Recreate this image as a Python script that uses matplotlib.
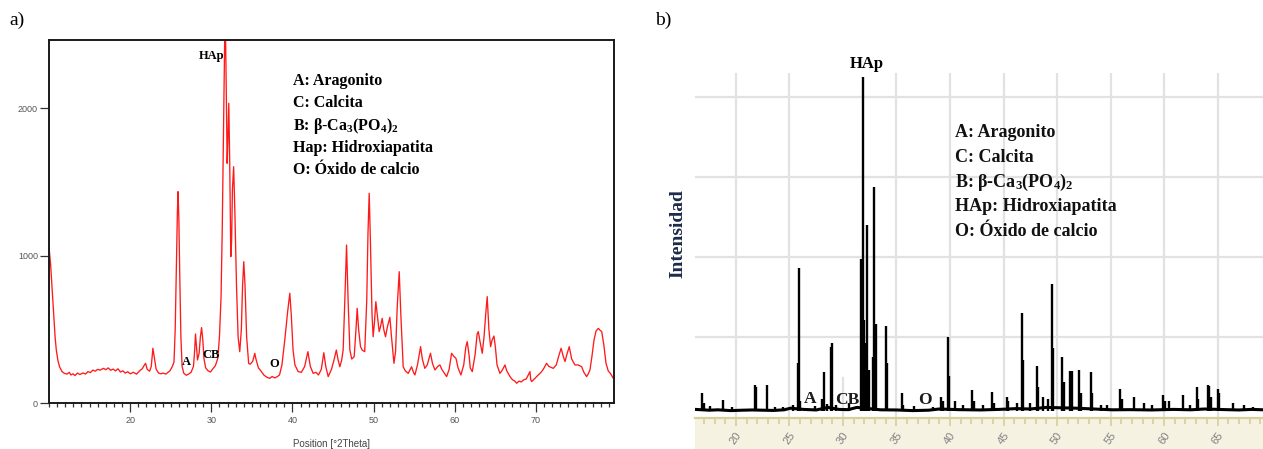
import matplotlib
matplotlib.use('Agg')
import matplotlib.pyplot as plt
import matplotlib.transforms as mtransforms
from matplotlib.ticker import MultipleLocator

plt.rcParams['mathtext.fontset'] = 'custom'
plt.rcParams['mathtext.rm'] = 'Liberation Serif:bold'
plt.rcParams['mathtext.it'] = 'Liberation Serif:bold'
plt.rcParams['mathtext.default'] = 'rm'

SERIF = ['Liberation Serif', 'DejaVu Serif']
NARROW = ['Liberation Sans Narrow', 'Liberation Sans', 'DejaVu Sans']

# --- panel a: continuous diffractogram (2theta, counts)
tt_a = [10.0, 10.2, 10.4, 10.57, 10.75, 10.9, 11.1, 11.3, 11.6, 11.9, 12.2, 12.5, 12.7, 12.95,
        13.2, 13.5, 13.8, 14.2, 14.5, 14.8, 15.1, 15.4, 15.7, 16.0, 16.3, 16.7, 17.0, 17.3,
        17.6, 17.9, 18.2, 18.5, 18.8, 19.1, 19.4, 19.7, 20.0, 20.4, 20.8, 21.2, 21.5, 21.7,
        21.9, 22.1, 22.4, 22.6, 22.8, 23.0, 23.2, 23.5, 23.8, 24.05, 24.4, 24.7, 24.9, 25.2,
        25.4, 25.55, 25.7, 25.82, 25.9, 26.0, 26.1, 26.25, 26.4, 26.6, 26.9, 27.2, 27.5, 27.8,
        27.95, 28.05, 28.15, 28.3, 28.5, 28.65, 28.8, 28.95, 29.1, 29.3, 29.6, 29.9, 30.2,
        30.5, 30.8, 31.0, 31.2, 31.35, 31.5, 31.6, 31.7, 31.8, 31.95, 32.05, 32.15, 32.25,
        32.4, 32.5, 32.6, 32.75, 32.9, 33.1, 33.3, 33.5, 33.7, 33.85, 34.0, 34.15, 34.35,
        34.6, 34.8, 35.1, 35.35, 35.5, 35.8, 36.1, 36.5, 36.9, 37.2, 37.5, 37.8, 38.1, 38.4,
        38.7, 39.05, 39.4, 39.67, 39.85, 40.07, 40.3, 40.7, 41.1, 41.5, 41.9, 42.2, 42.55,
        42.9, 43.2, 43.55, 43.86, 44.1, 44.4, 44.8, 45.1, 45.4, 45.6, 45.83, 46.05, 46.24,
        46.45, 46.66, 46.85, 47.07, 47.3, 47.6, 47.8, 47.97, 48.15, 48.38, 48.6, 48.9, 49.15,
        49.3, 49.45, 49.6, 49.8, 49.94, 50.1, 50.27, 50.45, 50.68, 50.85, 51.05, 51.25, 51.46,
        51.7, 52.0, 52.2, 52.5, 52.7, 52.9, 53.15, 53.35, 53.64, 53.9, 54.26, 54.5, 54.67,
        54.9, 55.08, 55.4, 55.78, 56.0, 56.3, 56.6, 57.0, 57.25, 57.55, 57.9, 58.16, 58.4,
        58.7, 58.99, 59.3, 59.6, 59.85, 60.14, 60.4, 60.75, 61.1, 61.35, 61.53, 61.75, 61.9,
        62.15, 62.5, 62.75, 62.89, 63.1, 63.38, 63.6, 63.8, 63.99, 64.2, 64.41, 64.6, 64.82,
        65.0, 65.2, 65.56, 65.8, 66.18, 66.4, 66.8, 67.1, 67.4, 67.62, 67.9, 68.2, 68.44,
        68.8, 69.26, 69.35, 69.47, 69.8, 70.3, 70.7, 71.0, 71.3, 71.6, 72.13, 72.5, 72.8,
        73.1, 73.35, 73.58, 73.8, 74.1, 74.4, 74.8, 75.2, 75.63, 75.9, 76.24, 76.45, 76.65,
        76.9, 77.15, 77.4, 77.68, 77.9, 78.1, 78.35, 78.63, 78.9, 79.2, 79.53, 79.7]
ct_a = [1060, 940, 760, 610, 450, 361, 290, 248, 215, 203, 198, 210, 192, 200,
        188, 205, 195, 206, 198, 215, 208, 225, 218, 230, 225, 237, 228, 240,
        224, 232, 220, 234, 212, 220, 205, 214, 200, 210, 198, 222, 235, 255,
        271, 230, 218, 250, 373, 300, 232, 205, 200, 205, 198, 212, 220, 250,
        280, 500, 950, 1300, 1435, 1250, 900, 450, 250, 205, 190, 198, 210, 250,
        360, 470, 400, 294, 340, 450, 513, 430, 300, 240, 220, 212, 235,
        255, 305, 450, 723, 1200, 1853, 2300, 2700, 2300, 1627, 1800, 2034, 1700,
        994, 1100, 1450, 1604, 1300, 800, 450, 350, 500, 800, 960, 800, 450,
        270, 265, 285, 339, 300, 240, 220, 190, 175, 169, 182, 172, 180, 192,
        260, 429, 620, 746, 600, 361, 260, 215, 210, 250, 350, 250, 203,
        210, 192, 230, 343, 250, 181, 230, 290, 361, 300, 248, 290, 361,
        700, 1073, 700, 361, 300, 316, 480, 644, 500, 384, 360, 350, 700,
        1150, 1424, 1100, 600, 451, 550, 689, 600, 486, 520, 576, 500, 451,
        520, 583, 450, 271, 350, 650, 892, 600, 248, 220, 203, 230, 248,
        210, 192, 260, 384, 300, 237, 260, 339, 270, 226, 250, 260, 230,
        205, 181, 230, 339, 320, 305, 240, 192, 260, 380, 418, 330, 240,
        215, 330, 470, 486, 420, 339, 450, 600, 723, 500, 384, 430, 456,
        380, 260, 203, 220, 260, 220, 181, 160, 150, 136, 150, 145, 158,
        165, 215, 160, 147, 165, 192, 215, 240, 271, 250, 237, 260, 320,
        373, 320, 283, 330, 384, 300, 260, 260, 248, 210, 181, 200, 226,
        320, 429, 490, 508, 495, 486, 400, 271, 220, 200, 169, 160]

# --- panel b: stick pattern (2theta, relative intensity)
peak_b = [16.8, 17.0, 17.6, 18.8, 19.6, 21.8, 21.9, 22.9, 23.6, 24.4, 25.3, 25.8, 25.9, 26.0,
          27.4, 28.0, 28.2, 28.5, 28.85, 29.0, 29.3, 30.6, 31.72, 31.84, 31.96, 32.12, 32.25,
          32.4, 32.8, 32.93, 33.1, 34.05, 34.15, 35.5, 35.6, 36.6, 38.4, 39.2, 39.35, 39.85,
          39.95, 40.5, 41.2, 42.05, 42.2, 43.1, 43.95, 44.1, 45.3, 45.45, 46.3, 46.72, 46.85,
          47.5, 48.1, 48.25, 48.7, 49.2, 49.5, 49.62, 50.45, 50.62, 51.25, 51.42, 52.05,
          52.2, 53.15, 53.3, 54.1, 54.7, 55.9, 56.05, 57.15, 58.1, 58.9, 59.95, 60.1,
          60.45, 61.75, 62.4, 63.05, 63.2, 64.1, 64.25, 64.4, 65.0, 65.15, 66.4, 67.5, 68.3]
int_b = [304, 170, 140, 212, 130, 400, 380, 400, 130, 130, 150, 675, 1860, 200,
         140, 230, 566, 160, 880, 925, 150, 170, 1970, 4254, 1212, 925, 2400,
         587, 754, 2880, 1162, 1137, 680, 304, 150, 140, 130, 254, 200, 996,
         512, 200, 150, 337, 200, 150, 316, 180, 254, 200, 170, 1304, 712,
         180, 637, 379, 250, 220, 1662, 858, 754, 441, 579, 579, 587,
         300, 566, 300, 150, 150, 350, 220, 254, 180, 150, 275, 200,
         200, 275, 150, 379, 220, 400, 390, 250, 350, 300, 170, 150, 130]
base_tt = [16.2, 17.5, 18.3, 19.5, 20.6, 21.5, 23.5, 24.5, 25.1, 26.3, 27.5, 28.6, 29.6,
           30.5, 31.3, 33.5, 35.0, 36.5, 38.0, 39.0, 40.8, 42.8, 44.6, 46.2, 47.5, 49.0,
           51.8, 53.8, 55.2, 56.8, 58.8, 60.9, 62.5, 63.8, 65.8, 67.0, 68.2, 69.3]
base_ct = [95, 85, 90, 80, 85, 88, 82, 90, 110, 95, 88, 120, 95,
           92, 120, 90, 88, 80, 85, 100, 92, 88, 95, 105, 100, 120,
           110, 98, 90, 92, 88, 95, 90, 100, 92, 88, 95, 90]

labels_a = [('A', 26.9, 260), ('CB', 30.0, 305), ('O', 37.8, 244)]
labels_b = [('A', 26.9, 179), ('CB', 30.4, 159), ('O', 37.66, 160)]
legend_lines = ['A: Aragonito', 'C: Calcita', r'B: β-Ca$_3$(PO$_4$)$_2$',
                'Hap: Hidroxiapatita', 'O: Óxido de calcio']
legend_lines_b = ['A: Aragonito', 'C: Calcita', r'B: β-Ca$_3$(PO$_4$)$_2$',
                  'HAp: Hidroxiapatita', 'O: Óxido de calcio']
xticks_a = [20, 30, 40, 50, 60, 70]
yticks_a = [0, 1000, 2000]
xticks_b = [20, 25, 30, 35, 40, 45, 50, 55, 60, 65]
ygrid_b = [1000, 2000, 3000, 4000]

fig = plt.figure(figsize=(12.63, 4.49), dpi=100)

# ---------------- panel a
ax = fig.add_axes([49 / 1263, 45.7 / 449, 565.3 / 1263, 363.3 / 449])
ax.plot(tt_a, ct_a, color='#ff1a1a', lw=0.95)
ax.set_xlim(10.0, 79.65)
ax.set_ylim(0, 2463)
ax.set_xticks(xticks_a)
ax.set_yticks(yticks_a)
ax.xaxis.set_minor_locator(MultipleLocator(1))
for s in ax.spines.values():
    s.set_color('#1a1a1a')
    s.set_linewidth(1.4)
ax.tick_params(axis='x', which='major', length=6.5, width=0.9, color='#333', pad=2.5,
               labelsize=6.5, labelcolor='#555')
ax.tick_params(axis='x', which='minor', length=3, width=0.9, color='#333')
ax.tick_params(axis='y', which='major', length=6.5, width=0.9, color='#333', pad=1.5,
               labelsize=6.5, labelcolor='#555')
for lab in ax.get_xticklabels() + ax.get_yticklabels():
    lab.set_family(NARROW)
ax.set_xlabel('Position [°2Theta]', fontsize=7, color='#444', family=NARROW, labelpad=10)

ax.text(30.0, 2332, 'HAp', fontsize=9, fontweight='bold', family=SERIF,
        ha='center', va='baseline')
for txt, x, y in labels_a:
    ax.text(x, y, txt, fontsize=9, fontweight='bold', family=SERIF, ha='center', va='baseline')
for i, line in enumerate(legend_lines):
    ax.text(0.4316, 0.8761 - i * 0.0615, line, transform=ax.transAxes, fontsize=11.5,
            fontweight='bold', family=SERIF, va='baseline')

# ---------------- panel b
bx = fig.add_axes([695 / 1263, 31 / 449, 568 / 1263, 345 / 449])
bx.set_xlim(16.17, 69.25)
bx.set_ylim(-12.5, 4300)
for sp in bx.spines.values():
    sp.set_visible(False)
bx.set_xticks([])
bx.set_yticks([])
for g in ygrid_b:
    bx.axhline(g, color='#e2e2e2', lw=1.6, zorder=0)
for t in xticks_b:
    top = 0.116 if t == 30 else 1.0
    bx.axvline(t, ymin=0, ymax=top, color='#e2e2e2', lw=1.6, zorder=0)
bx.plot(base_tt, base_ct, color='black', lw=2.2, solid_joinstyle='miter')
bx.vlines(peak_b, 80, int_b, color='black', lw=1.7)

bx.text(32.24, 4360, 'HAp', fontsize=12, fontweight='bold', family=SERIF,
        ha='center', va='baseline')
for txt, x, y in labels_b:
    bx.text(x, y, txt, fontsize=12.5, fontweight='bold', family=SERIF, color='#1b1b1b',
            ha='center', va='baseline')
for i, line in enumerate(legend_lines_b):
    bx.text(0.4586, 0.8145 - i * 0.0717, line, transform=bx.transAxes, fontsize=13,
            fontweight='bold', family=SERIF, va='baseline', color='#111')
bx.text(-0.03, 0.536, 'Intensidad', transform=bx.transAxes, rotation=90, fontsize=14,
        fontweight='bold', family=SERIF, color='#1c2b4a', ha='center', va='center')

# beige scale band under panel b
band = fig.add_axes([695 / 1263, 0, 568 / 1263, 31 / 449], facecolor='#f5f2e2')
band.set_xlim(16.17, 69.25)
band.set_ylim(0, 1)
for name, sp in band.spines.items():
    sp.set_visible(name == 'top')
band.spines['top'].set_color('#d8ce9c')
band.spines['top'].set_linewidth(1.6)
band.set_yticks([])
band.set_xticks(xticks_b)
band.xaxis.set_minor_locator(MultipleLocator(1))
band.tick_params(axis='x', which='both', direction='in', top=True, bottom=False,
                 labelbottom=False, color='#d8ce9c', width=1.2)
band.tick_params(axis='x', which='major', length=6)
band.tick_params(axis='x', which='minor', length=4)
trans = mtransforms.blended_transform_factory(band.transData, band.transAxes)
for t in xticks_b:
    band.text(t, 0.35, str(t), transform=trans, rotation=55, fontsize=8, color='#808080',
              family=NARROW, ha='center', va='center')

fig.text(9 / 1263, 1 - 20 / 449, 'a)', fontsize=14, family=SERIF, va='center')
fig.text(655 / 1263, 1 - 20 / 449, 'b)', fontsize=14, family=SERIF, va='center')

fig.savefig('out.png', dpi=100)
